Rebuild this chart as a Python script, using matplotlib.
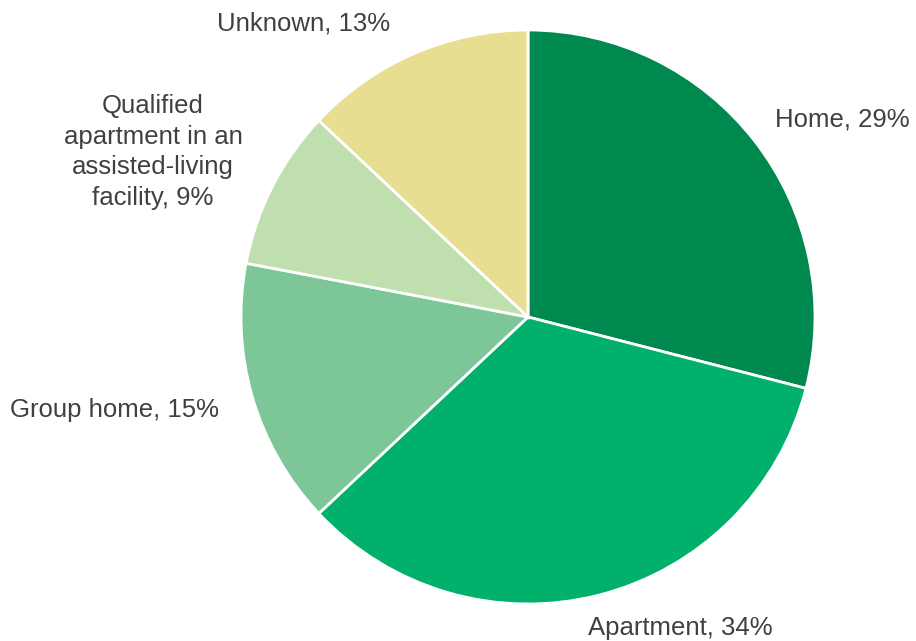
import matplotlib.pyplot as plt

plt.rcParams["font.family"] = ["Liberation Sans", "DejaVu Sans"]

categories = ["Home", "Apartment", "Group home",
              "Qualified\napartment in an\nassisted-living\nfacility", "Unknown"]
shares = [29, 34, 15, 9, 13]
colors = ["#00894f", "#00b06b", "#7dc698", "#c0dfae", "#e8de92"]

# label anchor points in figure pixels (x, y from top), plus alignment
label_pos = [(775, 120, "left"), (588, 628, "left"), (10, 410, "left"),
             (153, 152, "center"), (217, 23, "left")]

W, H = 916, 641
fig = plt.figure(figsize=(W / 100, H / 100), dpi=100)
ax = fig.add_axes([0, 0, 1, 1])

ax.pie(shares, colors=colors, startangle=90, counterclock=False,
       center=(528, H - 317), radius=287, frame=True,
       wedgeprops={"edgecolor": "white", "linewidth": 2.0})
ax.set_xlim(0, W)
ax.set_ylim(0, H)
ax.set_aspect("equal")
ax.axis("off")

for name, val, (x, y, ha) in zip(categories, shares, label_pos):
    ax.text(x, H - y, f"{name}, {val}%", ha=ha, va="center", fontsize=18.5,
            color="#404040", linespacing=1.35)

fig.savefig("out.png", dpi=100, facecolor="white")
